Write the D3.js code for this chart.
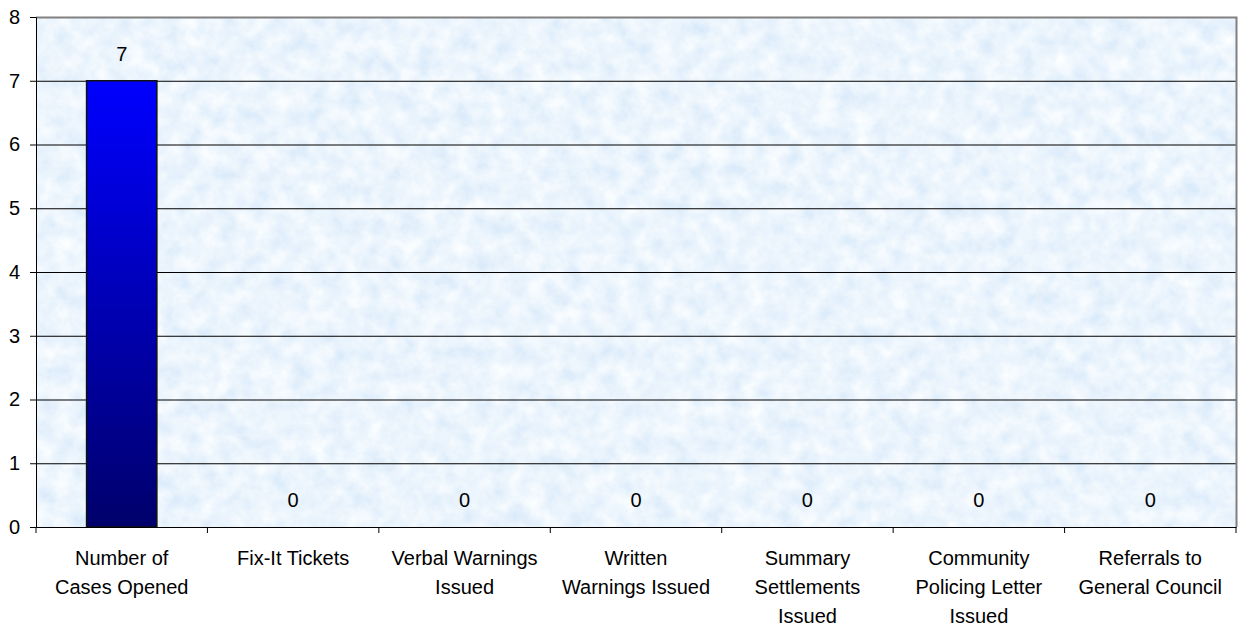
<!DOCTYPE html>
<html><head><meta charset="utf-8">
<script src="https://cdn.jsdelivr.net/npm/d3@7"></script>
<style>
html,body{margin:0;padding:0;background:#fff;}
svg{display:block;font-family:"Liberation Sans",Arial,sans-serif;}
</style></head>
<body><svg id="c" width="1241" height="629"></svg>
<script>
const categories = [
  ["Number of","Cases Opened"],
  ["Fix-It Tickets"],
  ["Verbal Warnings","Issued"],
  ["Written","Warnings Issued"],
  ["Summary","Settlements","Issued"],
  ["Community","Policing Letter","Issued"],
  ["Referrals to","General Council"]
];
const values = [7, 0, 0, 0, 0, 0, 0];
const yTicks = [0,1,2,3,4,5,6,7,8];

const svg = d3.select("#c");
const m = {l:36, t:17, r:1236, b:527};
const ids = categories.map((c,i)=>i);
const x = d3.scaleBand().domain(ids).range([m.l, m.r]).paddingInner(0.59).paddingOuter(0.295);
const xb = d3.scaleBand().domain(ids).range([m.l, m.r]);
const y = d3.scaleLinear().domain([0,8]).range([m.b, m.t]);
const FS = 20;

const defs = svg.append("defs");
const f = defs.append("filter").attr("id","tex").attr("x",0).attr("y",0).attr("width","100%").attr("height","100%");
f.append("feTurbulence").attr("type","fractalNoise").attr("baseFrequency","0.055").attr("numOctaves",4).attr("seed",7).attr("result","n");
f.append("feColorMatrix").attr("in","n").attr("type","matrix")
  .attr("values","0.35 0 0 0 0.66  0.22 0 0 0 0.80  0.06 0 0 0 0.95  0 0 0 0 1");
const g = defs.append("linearGradient").attr("id","bg").attr("x1",0).attr("y1",0).attr("x2",0).attr("y2",1);
g.append("stop").attr("offset","0%").attr("stop-color","#0000ff");
g.append("stop").attr("offset","100%").attr("stop-color","#00006b");

// plot background
svg.append("rect").attr("x",m.l).attr("y",m.t).attr("width",m.r-m.l).attr("height",m.b-m.t)
  .attr("fill","#d9e7f9").attr("filter","url(#tex)");

// gridlines
svg.append("g").selectAll("line").data(yTicks.filter(d=>d>0&&d<8)).join("line")
  .attr("x1",m.l).attr("x2",m.r).attr("y1",d=>y(d)+0.5).attr("y2",d=>y(d)+0.5)
  .attr("stroke","#000").attr("stroke-width",1);

// border top/right
svg.append("path").attr("d",`M${m.l},${m.t+0.5}H${m.r+0.5}V${m.b}`).attr("fill","none").attr("stroke","#808080").attr("stroke-width",2);

// bars
svg.append("g").selectAll("rect").data(values).join("rect")
  .attr("x",(d,i)=>x(i)).attr("width",x.bandwidth())
  .attr("y",d=>y(d)).attr("height",d=>y(0)-y(d))
  .attr("fill","url(#bg)").attr("stroke","#111").attr("stroke-width",1.5);

// value labels
svg.append("g").selectAll("text").data(values).join("text")
  .attr("x",(d,i)=>x(i)+x.bandwidth()/2).attr("y",d=>y(d)-20)
  .attr("text-anchor","middle").attr("font-size",FS).attr("fill","#000").text(d=>d);

// y axis
const ya = d3.axisLeft(y).tickValues(yTicks).tickSize(6).tickPadding(10).tickFormat(d3.format("d"));
const yg = svg.append("g").attr("transform",`translate(${m.l},0)`).call(ya);
yg.select(".domain").attr("stroke","#000");
yg.selectAll("text").attr("font-size",FS).attr("font-family","Liberation Sans, Arial, sans-serif").attr("fill","#000");

// x axis
const xa = d3.axisBottom(xb).tickValues([]).tickSizeOuter(0);
const xg = svg.append("g").attr("transform",`translate(0,${m.b})`).call(xa);
xg.select(".domain").attr("stroke","#000");
const bounds = d3.range(0, categories.length+1).map(i=> m.l + i*xb.step());
xg.selectAll("line.tk").data(bounds).join("line").attr("class","tk")
  .attr("x1",d=>d).attr("x2",d=>d).attr("y1",0).attr("y2",6).attr("stroke","#000");

// category labels
const cl = svg.append("g").selectAll("text").data(categories).join("text")
  .attr("x",(d,i)=>xb(i)+xb.bandwidth()/2).attr("y",565)
  .attr("text-anchor","middle").attr("font-size",FS).attr("fill","#000");
cl.each(function(d){
  const t = d3.select(this);
  d.forEach((line,j)=>{
    t.append("tspan").attr("x",t.attr("x")).attr("dy", j===0?0:29).text(line);
  });
});
</script></body></html>
